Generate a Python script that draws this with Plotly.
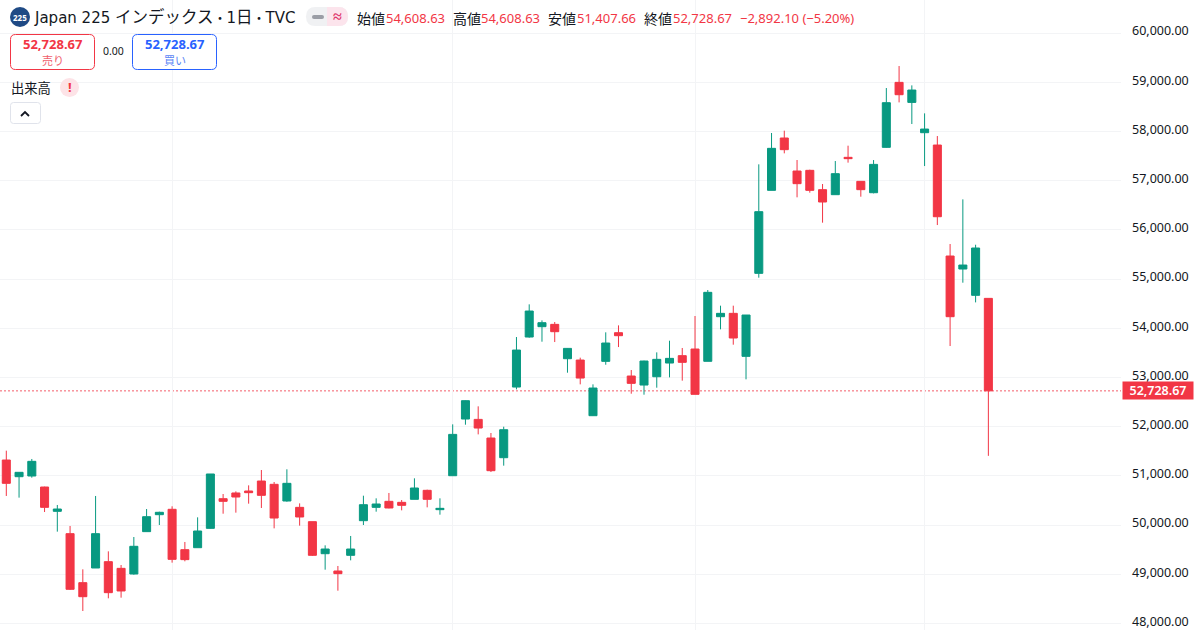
import plotly.graph_objects as go

# index 0..77, one entry per session
opens = [51323,50984,50998,50774,50280,49826,48830,49128,49257,49121,
         49006,49867,50212,50321,49501,49541,49934,50537,50653,50693,
         50896,50829,50490,50361,50070,49419,49067,49386,50090,50361,
         50483,50463,50524,50707,50314,51004,52156,52149,51770,51370,
         52806,53823,54033,54080,53382,53355,52224,53328,53911,53030,
         52847,53016,53294,53444,53579,53329,54236,54304,53430,55117,
         56804,57868,57197,57211,56818,56716,57475,56987,56756,57678,
         58999,58592,57976,57725,55469,55205,54670,54608.63]
highs = [51513,51073,51344,50781,50409,49982,49101,50592,49467,49189,
         49758,50327,50273,50382,49657,50158,51039,50632,50686,50808,
         51120,50876,51134,50442,50070,49589,49169,49779,50598,50544,
         50653,50510,50951,50720,50544,52048,52535,52414,51872,52000,
         53823,54487,54161,54128,53599,53403,52861,53918,54060,53152,
         53342,53511,53748,53600,54250,54778,54460,54460,54270,57333,
         57970,58017,57421,57224,56933,57400,57712,56987,57420,58884,
         59331,58938,58369,57908,55713,56621,55699,54608.63]
lows = [50592,50558,50964,50266,49867,48681,48254,49128,48512,48525,
        48993,49867,50002,49237,49264,49541,49928,50232,50253,50436,
        50348,49934,50476,49989,49372,49094,48667,49284,50002,50273,
        50341,50300,50524,50361,50212,51004,52041,51844,51079,51208,
        52759,53809,53728,53721,53098,52861,52217,53260,53619,52671,
        52651,52793,53003,52936,52658,53329,53979,53667,52963,55029,
        56804,57556,56662,56757,56147,56716,57367,56675,56743,57671,
        58592,58152,57298,56099,53640,54927,54527,51407.66]
closes = [50849,51073,51296,50361,50327,48695,48545,49826,48627,48661,
          49569,50171,50260,49304,49298,49880,51039,50483,50571,50659,
          50605,50144,50849,50165,49386,49514,49013,49514,50415,50429,
          50348,50402,50754,50524,50341,51844,52529,51973,51106,51939,
          53558,54351,54114,53931,53592,52989,52786,53701,53850,52881,
          53335,53369,53389,53308,52658,54731,54304,53803,54270,56371,
          57658,57631,56940,56804,56567,57143,57448,56818,57332,58586,
          58748,58843,58050,56268,54236,55286,55632,52728.67]
sessions = list(range(len(opens)))

price_ticks = [48000,49000,50000,51000,52000,53000,54000,55000,56000,57000,58000,59000,60000]
month_gridlines = [13,35,54,72]
last_price = 52728.67
last_price_label = "52,728.67"
ohlc_labels = ["始値","高値","安値","終値"]
ohlc_values = ["54,608.63","54,608.63","51,407.66","52,728.67"]
change_text = "−2,892.10 (−5.20%)"
spread_text = "0.00"
sell_label, buy_label = "売り", "買い"
volume_label = "出来高"

DOT = '<span style="font-size:13px">・</span>'
title_text = ('<span style="font-size:15px">Japan 225 </span>インデックス' + DOT +
              '<span style="font-size:15px">1</span>日' + DOT +
              '<span style="font-size:15px">TVC</span>')

RED, GREEN, BLUE, DARK = "#F23645", "#089981", "#2962FF", "#131722"
GRID = "#F3F4F6"
JP = "Noto Sans CJK JP"
W, H = 1200, 630
EXTRA = 12  # room below the window so the 48,000 label is not culled
px = lambda v: v / W
py = lambda v: 1 - v / H


def rrect(x0, y0, x1, y1, r, **kw):
    p = (f"M{px(x0+r)},{py(y0)} L{px(x1-r)},{py(y0)} Q{px(x1)},{py(y0)} {px(x1)},{py(y0+r)} "
         f"L{px(x1)},{py(y1-r)} Q{px(x1)},{py(y1)} {px(x1-r)},{py(y1)} "
         f"L{px(x0+r)},{py(y1)} Q{px(x0)},{py(y1)} {px(x0)},{py(y1-r)} "
         f"L{px(x0)},{py(y0+r)} Q{px(x0)},{py(y0)} {px(x0+r)},{py(y0)} Z")
    return dict(type="path", xref="paper", yref="paper", path=p, layer="above", **kw)


def text(x, y, s, size, color, anchor="left", family=JP, weight=None):
    return dict(xref="paper", yref="paper", x=px(x), y=py(y), text=s, showarrow=False,
                xanchor=anchor, yanchor="middle", align=anchor,
                font=dict(size=size, color=color, family=family, weight=weight),
                borderpad=0, borderwidth=0)


fig = go.Figure(go.Candlestick(
    x=sessions, open=opens, high=highs, low=lows, close=closes,
    increasing=dict(line=dict(color=GREEN, width=1), fillcolor=GREEN),
    decreasing=dict(line=dict(color=RED, width=1), fillcolor=RED),
    whiskerwidth=0, showlegend=False, hoverinfo="skip",
))

shapes = [
    dict(type="line", xref="paper", yref="y", x0=0, x1=px(1121), y0=last_price, y1=last_price,
         line=dict(color=RED, width=1, dash="2px,2px"), layer="below", opacity=0.8),
    dict(type="circle", xref="paper", yref="paper", x0=px(10), x1=px(30), y0=py(27), y1=py(7),
         fillcolor="#1F4A85", line=dict(width=0)),
    rrect(306, 7, 348, 26, 9.5, fillcolor="#F0F1F3", line=dict(width=0)),
    dict(type="path", xref="paper", yref="paper",
         path=(f"M{px(327)},{py(7)} L{px(338.5)},{py(7)} Q{px(348)},{py(7)} {px(348)},{py(16.5)} "
               f"Q{px(348)},{py(26)} {px(338.5)},{py(26)} L{px(327)},{py(26)} Z"),
         fillcolor="#FCE4EC", line=dict(width=0), layer="above"),
    rrect(312, 15, 324, 19, 2, fillcolor="#9B9EA6", line=dict(width=0)),
    rrect(10.5, 34.5, 94.5, 69.5, 5, fillcolor="white", line=dict(color=RED, width=1)),
    rrect(132.5, 34.5, 216.5, 69.5, 5, fillcolor="white", line=dict(color=BLUE, width=1)),
    dict(type="circle", xref="paper", yref="paper", x0=px(60), x1=px(79), y0=py(97), y1=py(78),
         fillcolor="#FDE3E7", line=dict(width=0)),
    rrect(10.5, 102.5, 40.5, 123.5, 3, fillcolor="white", line=dict(color="#E0E3EB", width=1)),
    dict(type="path", xref="paper", yref="paper",
         path=f"M{px(21)},{py(116)} L{px(25)},{py(112)} L{px(29)},{py(116)}",
         line=dict(color=DARK, width=1.8), layer="above"),
]

annotations = [
    text(20, 17, "225", 8, "white", "center", "Noto Sans", 700),
    text(34, 17, title_text, 16.5, DARK, "left", "DejaVu Sans, Noto Sans CJK JP"),
    text(337.5, 16, "≈", 16, "#E0356B", "center", "Noto Sans", 700),
    text(52.5, 44, last_price_label, 13, RED, "center", "Noto Sans", 700),
    text(52.5, 59.5, sell_label, 11, "#F0606D", "center"),
    text(113.5, 51, spread_text, 10.5, DARK, "center", "Noto Sans"),
    text(174.5, 44, last_price_label, 13, BLUE, "center", "Noto Sans", 700),
    text(174.5, 59.5, buy_label, 11, "#5B85F5", "center"),
    text(11, 88, volume_label, 13.3, DARK),
    text(69.5, 87, "!", 13, RED, "center", "Noto Sans", 700),
    text(740, 18, change_text, 13, RED, "left", "Noto Sans"),
    dict(xref="paper", yref="y", x=px(1158), y=last_price, text=last_price_label, showarrow=False,
         font=dict(size=12.5, color="white", family="Noto Sans", weight=600),
         bgcolor=RED, width=70, height=17, xanchor="center", yanchor="middle", borderpad=0),
]
for lx, vx, lab, val in zip([357, 453, 548, 644], [386, 481, 577, 673], ohlc_labels, ohlc_values):
    annotations.append(text(lx, 18, lab, 14, DARK))
    annotations.append(text(vx, 17.5, val, 13, RED, "left", "Noto Sans"))

fig.update_layout(
    width=W, height=H + EXTRA, margin=dict(l=0, r=0, t=0, b=EXTRA), autosize=False,
    paper_bgcolor="white", plot_bgcolor="white", hovermode=False, dragmode=False,
    xaxis=dict(domain=[0, 1121 / W], range=[-0.494, 87.4], rangeslider=dict(visible=False),
               tickmode="array", tickvals=month_gridlines, showticklabels=False, ticks="",
               showgrid=True, gridcolor=GRID, gridwidth=1, zeroline=False, showline=False),
    yaxis=dict(side="right", range=[47868, 60673], tickmode="array", tickvals=price_ticks,
               tickformat=",.2f", ticks="", ticklabelstandoff=10, ticklabelshift=-2,
               tickfont=dict(size=12.5, color=DARK, family="Noto Sans"),
               showgrid=True, gridcolor=GRID, gridwidth=1, zeroline=False, showline=False),
    shapes=shapes, annotations=annotations, boxgap=0.1,
)
fig.write_html("out.html", config=dict(displayModeBar=False),
               post_script="document.body.style.margin='0';document.documentElement.style.overflow='hidden';document.body.style.overflow='hidden';")
